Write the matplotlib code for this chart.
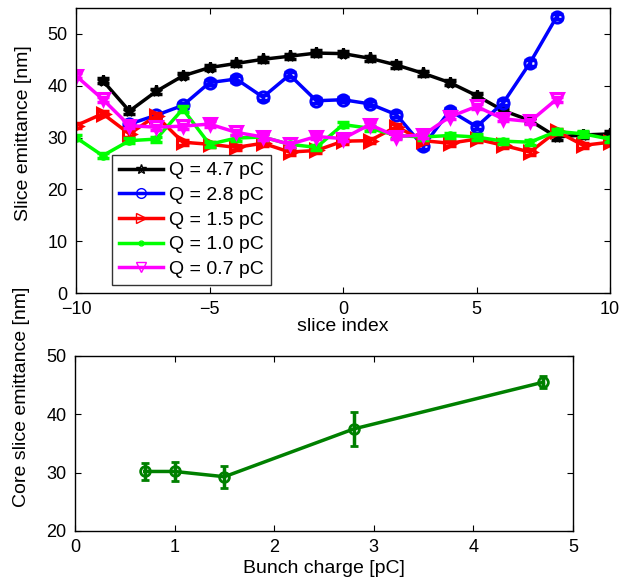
import numpy as np
import matplotlib
matplotlib.use("Agg")
import matplotlib.pyplot as plt

plt.rcParams['font.family'] = ['Liberation Sans', 'DejaVu Sans']

# slice emittance per slice index, one list per bunch charge
x_47 = list(range(-9, 11))
y_47 = [41.0, 35.1, 38.9, 41.9, 43.5, 44.3, 45.1, 45.7, 46.3, 46.2,
        45.3, 44.0, 42.4, 40.6, 38.1, 35.2, 33.3, 30.1, 30.5, 30.7]

x_28 = list(range(-8, 9))
y_28 = [32.6, 34.3, 36.2, 40.6, 41.3, 37.8, 42.1, 37.1, 37.3,
        36.5, 34.4, 28.3, 35.2, 32.1, 36.7, 44.4, 53.3]

x_15 = list(range(-10, 11))
y_15 = [32.3, 34.6, 30.7, 34.2, 29.1, 28.7, 28.1, 28.9, 27.2, 27.5, 29.3,
        29.4, 32.1, 29.4, 28.9, 29.7, 28.5, 27.2, 31.2, 28.5, 29.1]

x_10 = list(range(-10, 11))
y_10 = [30.0, 26.5, 29.4, 29.7, 35.5, 28.7, 29.9, 30.1, 28.7, 28.1, 32.5,
        31.8, 30.4, 30.1, 30.4, 30.1, 29.3, 29.1, 31.2, 30.7, 29.7]

x_07 = list(range(-10, 9))
y_07 = [41.9, 37.4, 32.3, 32.0, 32.2, 32.6, 31.0, 30.1, 28.7, 30.2, 29.8,
        32.5, 30.2, 30.5, 34.0, 36.0, 33.6, 33.1, 37.4]

slice_err = 0.5

# core slice emittance vs bunch charge
charge = [0.7, 1.0, 1.5, 2.8, 4.7]
core_emit = [30.2, 30.2, 29.3, 37.5, 45.5]
core_err = [1.5, 1.6, 1.9, 2.9, 1.0]

fig = plt.figure(figsize=(6.21, 5.88), dpi=100)

# top panel
ax1 = fig.add_axes([0.1224, 0.5017, 0.86, 0.4847])
series = [
    (x_47, y_47, 'k', '*', 'Q = 4.7 pC'),
    (x_28, y_28, '#0000ff', 'o', 'Q = 2.8 pC'),
    (x_15, y_15, '#ff0000', '>', 'Q = 1.5 pC'),
    (x_10, y_10, '#00ff00', '.', 'Q = 1.0 pC'),
    (x_07, y_07, '#ff00ff', 'v', 'Q = 0.7 pC'),
]
handles = []
for xs, ys, c, m, lab in series:
    ax1.errorbar(xs, ys, yerr=slice_err, color=c, lw=2.5, capsize=4,
                 capthick=2.5, elinewidth=2.5, fmt='none')
    h, = ax1.plot(xs, ys, color=c, lw=2.5, marker=m, ms=8,
                  mfc='none', mew=2.2, label=lab)
    handles.append(h)

ax1.set_xlim(-10, 10)
ax1.set_ylim(0, 55)
ax1.set_xticks([-10, -5, 0, 5, 10])
ax1.set_yticks([0, 10, 20, 30, 40, 50])
ax1.set_xticklabels(['\u221210', '\u22125', '0', '5', '10'])
ax1.set_xlabel('slice index', fontsize=14, labelpad=0)
ax1.set_ylabel('Slice emittance [nm]', fontsize=14)
ax1.yaxis.set_label_coords(-0.083, 0.56)
ax1.tick_params(direction='in', labelsize=13, top=True, right=True, length=4, pad=6)

leg = ax1.legend(handles=handles, loc='upper left', bbox_to_anchor=(0.067, 0.484),
                 fontsize=14, frameon=True, fancybox=False, borderpad=0.35,
                 handlelength=2.3, labelspacing=0.36, handletextpad=0.3,
                 borderaxespad=0)
leg.get_frame().set_edgecolor('k')
leg.get_frame().set_linewidth(1)
for lh in leg.get_lines():
    lh.set_markersize(7)
    lh.set_markeredgewidth(1)

# bottom panel
ax2 = fig.add_axes([0.1208, 0.097, 0.802, 0.2976])
ax2.errorbar(charge, core_emit, yerr=core_err, color='#008000', lw=2.5,
             marker='o', ms=7, mfc='none', mew=2, capsize=3, capthick=2.5,
             elinewidth=2.5)
ax2.set_xlim(0, 5)
ax2.set_ylim(20, 50)
ax2.set_xticks([0, 1, 2, 3, 4, 5])
ax2.set_yticks([20, 30, 40, 50])
ax2.set_xlabel('Bunch charge [pC]', fontsize=14, labelpad=3)
ax2.set_ylabel('Core slice emittance [nm]', fontsize=14)
ax2.yaxis.set_label_coords(-0.09, 0.766)
ax2.tick_params(direction='in', labelsize=13, top=True, right=True, length=4, pad=6)

for ax in (ax1, ax2):
    for s in ax.spines.values():
        s.set_linewidth(1)

fig.savefig('out.png', dpi=100)
